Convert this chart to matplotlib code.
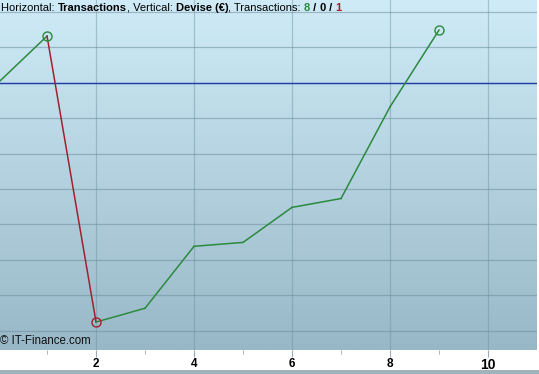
import numpy as np
import matplotlib.pyplot as plt
from matplotlib.colors import LinearSegmentedColormap

# equity curve, one point per transaction (units = one grid step)
trades = [0, 1, 2, 3, 4, 5, 6, 7, 8, 9]
equity = [0.0, 1.32, -6.76, -6.37, -4.62, -4.51, -3.52, -3.27, -0.68, 1.49]
major_ticks = [2, 4, 6, 8, 10]
minor_ticks = [1, 3, 5, 7, 9]
n_win, n_even, n_loss = 8, 0, 1

green = '#2b8a3e'
red = '#a3202e'

plt.rcParams['font.family'] = ['Liberation Sans', 'DejaVu Sans']

fig = plt.figure(figsize=(5.39, 3.74), dpi=100)
fig.patch.set_facecolor('white')
ax = fig.add_axes([0.0, 1 - 350 / 374, 537 / 539, 350 / 374])

ax.set_xlim(0.04, 11.0)
ax.set_ylim(-7.55, 2.34)

# background gradient
cmap = LinearSegmentedColormap.from_list('bg', ['#cfebf8', '#99b8c7'])
grad = np.linspace(0, 1, 256).reshape(-1, 1)
ax.imshow(grad, extent=[0, 1, 0, 1], transform=ax.transAxes, aspect='auto',
          cmap=cmap, zorder=0)

# grid
for y in range(-7, 3):
    ax.axhline(y, color='#6f8f9e', alpha=0.55, lw=0.9, zorder=1)
for x in major_ticks:
    ax.axvline(x, color='#6f8f9e', alpha=0.45, lw=0.9, zorder=1)

# starting capital line
ax.axhline(0, color='#1f3ca8', lw=1.0, zorder=2)

# segments: green for gains, red for losses
for i in range(1, len(trades)):
    c = green if equity[i] >= equity[i - 1] else red
    ax.plot(trades[i - 1:i + 1], equity[i - 1:i + 1], color=c, lw=1.1, zorder=3)

# markers on extreme points
ax.plot(trades[1], equity[1], 'o', mfc='none', mec=green, ms=6.5, mew=1.0, zorder=4)
ax.plot(trades[2], equity[2], 'o', mfc='none', mec=red, ms=6.5, mew=1.0, zorder=4)
ax.plot(trades[9], equity[9], 'o', mfc='none', mec=green, ms=6.5, mew=1.0, zorder=4)

for s in ax.spines.values():
    s.set_visible(False)
ax.set_yticks([])
ax.set_xticks(major_ticks)
ax.set_xticks(minor_ticks, minor=True)
labels = ax.set_xticklabels([str(t) for t in major_ticks], fontsize=8.5, fontweight='bold')
labels[-1].set_fontsize(10)
ax.tick_params(axis='x', which='major', length=5, color='#9aaab2', pad=1)
ax.tick_params(axis='x', which='minor', length=3, color='#9aaab2')

# header text
fs = 8
parts = [('Horizontal: ', 'normal', 'black'), ('Transactions', 'bold', 'black'),
         (', Vertical: ', 'normal', 'black'), ('Devise (€)', 'bold', 'black'),
         (', Transactions: ', 'normal', 'black'), (str(n_win), 'bold', green),
         (' / ', 'bold', 'black'), (str(n_even), 'bold', 'black'),
         (' / ', 'bold', 'black'), (str(n_loss), 'bold', red)]
fig.canvas.draw()
r = fig.canvas.get_renderer()
xpix = 1
for txt, w, c in parts:
    t = fig.text(xpix / 539, 1 - 8 / 374, txt, fontsize=fs, fontweight=w, color=c,
                 va='center', ha='left')
    bb = t.get_window_extent(renderer=r)
    xpix += bb.width

ax.text(0.0, 0.027, '© IT-Finance.com', transform=ax.transAxes, fontsize=8.3,
        va='center', ha='left', color='#111111', zorder=5)

# bottom border
fig.add_artist(plt.Rectangle((0, 0), 1, 4 / 374, transform=fig.transFigure,
                             color='#9fb3bd', lw=0))

fig.savefig('out.png', dpi=100)
